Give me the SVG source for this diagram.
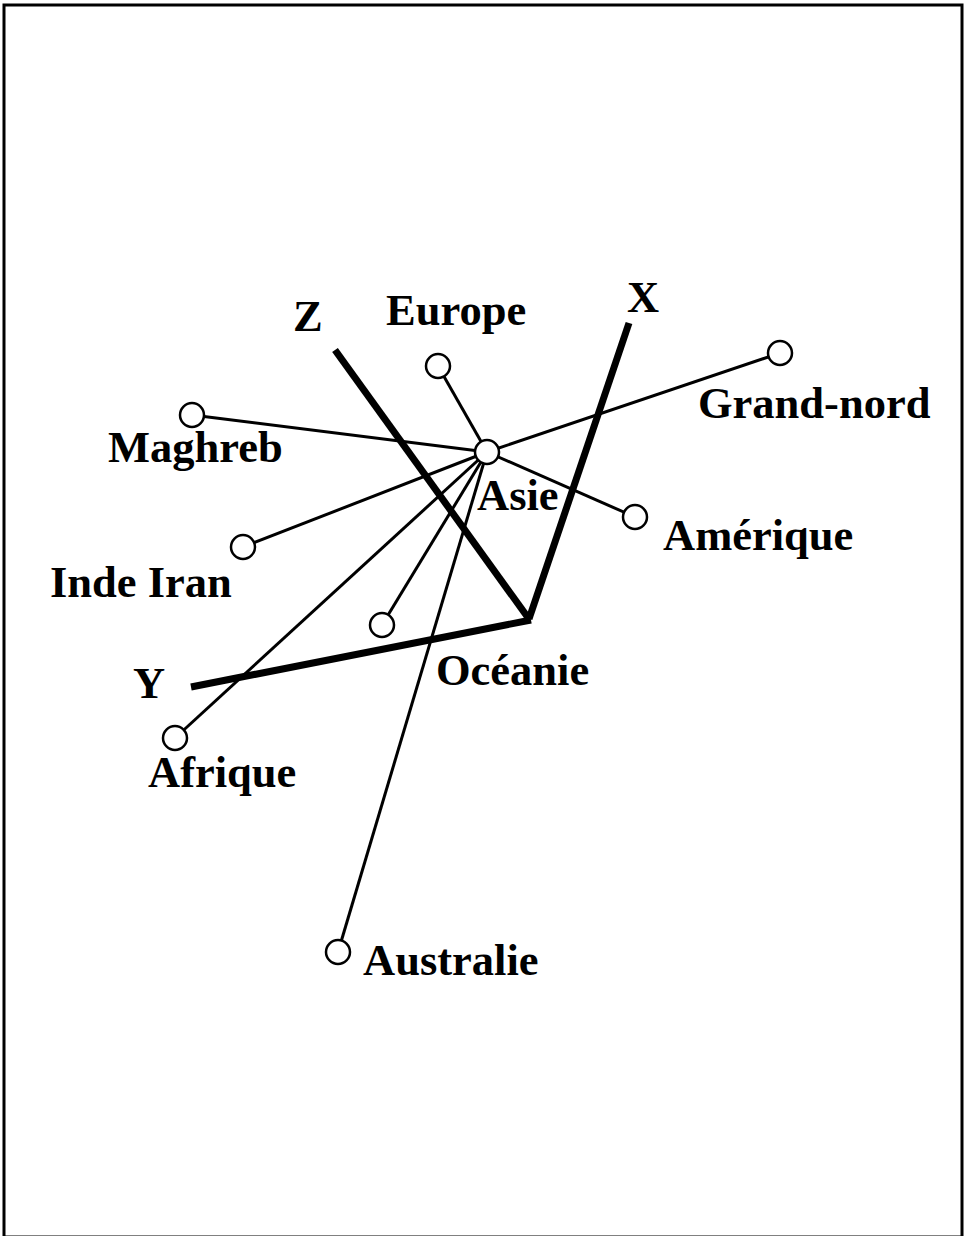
<svg xmlns="http://www.w3.org/2000/svg" width="966" height="1236" viewBox="0 0 966 1236">
<style>
.frame{fill:none;stroke:#000;stroke-width:3}
.axis{stroke:#000;stroke-width:7;stroke-linecap:butt;fill:none}
.link{stroke:#000;stroke-width:3;fill:none}
.node{fill:#fff;stroke:#000;stroke-width:2.5}
.lbl{font-family:"Liberation Serif","Times New Roman",serif;font-weight:bold;font-size:44.5px;fill:#000}
</style>
<rect class="frame" x="4" y="5" width="958" height="1232"/>
<g id="connectors">
<line class="link" x1="487" y1="452" x2="438" y2="366"/>
<line class="link" x1="487" y1="452" x2="192" y2="415"/>
<line class="link" x1="487" y1="452" x2="780" y2="353"/>
<line class="link" x1="487" y1="452" x2="635" y2="517"/>
<line class="link" x1="487" y1="452" x2="243" y2="547"/>
<line class="link" x1="487" y1="452" x2="382" y2="625"/>
<line class="link" x1="487" y1="452" x2="175" y2="738"/>
<line class="link" x1="487" y1="452" x2="338" y2="952"/>
</g>
<g id="axes">
<line class="axis" x1="335" y1="350" x2="529" y2="619"/>
<line class="axis" x1="629" y1="323" x2="529" y2="619"/>
<path class="axis" d="M191,687 L531,620"/>
<text class="lbl" x="293" y="331">Z</text>
<text class="lbl" x="627" y="312">X</text>
<text class="lbl" x="133" y="698">Y</text>
</g>
<g id="asie"><circle class="node" cx="487" cy="452" r="12"/><text class="lbl" x="477" y="510">Asie</text></g>
<g id="europe"><circle class="node" cx="438" cy="366" r="12"/><text class="lbl" x="386" y="325">Europe</text></g>
<g id="maghreb"><circle class="node" cx="192" cy="415" r="12"/><text class="lbl" x="108" y="462">Maghreb</text></g>
<g id="grand-nord"><circle class="node" cx="780" cy="353" r="12"/><text class="lbl" x="698" y="418">Grand-nord</text></g>
<g id="amerique"><circle class="node" cx="635" cy="517" r="12"/><text class="lbl" x="663" y="550">Amérique</text></g>
<g id="inde-iran"><circle class="node" cx="243" cy="547" r="12"/><text class="lbl" x="50" y="597">Inde Iran</text></g>
<g id="oceanie"><circle class="node" cx="382" cy="625" r="12"/><text class="lbl" x="436" y="685">Océanie</text></g>
<g id="afrique"><circle class="node" cx="175" cy="738" r="12"/><text class="lbl" x="148" y="787">Afrique</text></g>
<g id="australie"><circle class="node" cx="338" cy="952" r="12"/><text class="lbl" x="363" y="975">Australie</text></g>
</svg>
